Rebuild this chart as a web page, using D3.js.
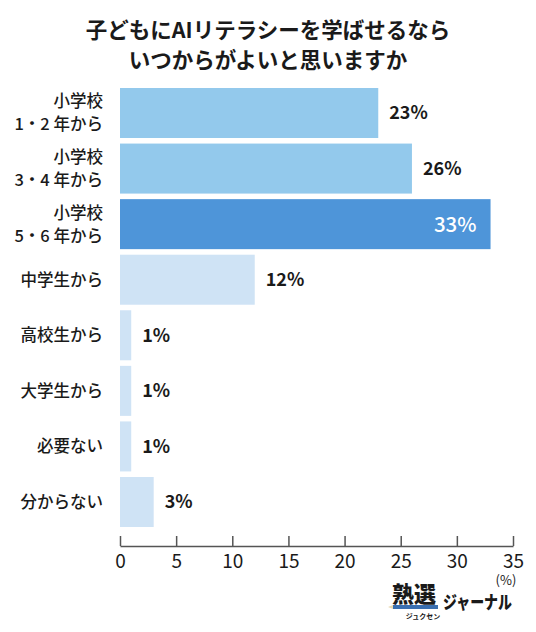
<!DOCTYPE html>
<html><head><meta charset="utf-8">
<script src="https://cdn.jsdelivr.net/npm/d3@7"></script>
<style>
html,body{margin:0;padding:0;background:#fff;}
svg{display:block;font-family:"Noto Sans CJK JP","Noto Sans",sans-serif;}
</style></head>
<body><svg id="c" width="536" height="632"></svg>
<script>
const titleLines = ["子どもにAIリテラシーを学ばせるなら", "いつからがよいと思いますか"];
const categories = ["小学校\n1・2 年から", "小学校\n3・4 年から", "小学校\n5・6 年から", "中学生から", "高校生から", "大学生から", "必要ない", "分からない"];
const values = [23, 26, 33, 12, 1, 1, 1, 3];
const tickValues = [0, 5, 10, 15, 20, 25, 30, 35];
const unitLabel = "(%)";
const highlight = "小学校\n5・6 年から";

const svg = d3.select("#c");
const x = d3.scaleLinear().domain([0, 35]).range([120, 513]);
const y = d3.scaleBand().domain(categories).range([88, 527]).paddingInner(0.1).paddingOuter(0);
const color = c => c === highlight ? "#4e95d9" : (c.startsWith("小学校") ? "#93c9ec" : "#cfe3f5");

// title
svg.append("g").selectAll("text").data(titleLines).join("text")
  .attr("x", 268).attr("y", (d, i) => 38 + i * 30)
  .attr("text-anchor", "middle").attr("font-size", 21.5).attr("font-weight", 700)
  .attr("fill", "#1a1a1a").text(d => d);

const data = categories.map((c, i) => ({c, v: values[i]}));

// bars
svg.append("g").selectAll("rect").data(data).join("rect")
  .attr("x", x(0)).attr("y", d => y(d.c))
  .attr("width", d => x(d.v) - x(0)).attr("height", y.bandwidth())
  .attr("fill", d => color(d.c));

// category labels
const lab = svg.append("g").selectAll("text").data(data).join("text")
  .attr("text-anchor", "end").attr("font-size", 16.5).attr("font-weight", 500)
  .attr("fill", "#1a1a1a");
lab.each(function(d) {
  const lines = d.c.split("\n");
  const cy = y(d.c) + y.bandwidth() / 2;
  const lh = 23;
  d3.select(this).selectAll("tspan").data(lines).join("tspan")
    .attr("x", 103)
    .attr("y", (l, i) => cy + (i - (lines.length - 1) / 2) * lh)
    .attr("dy", "0.36em")
    .text(l => l);
});

// value labels
svg.append("g").selectAll("text").data(data).join("text")
  .attr("x", d => d.c === highlight ? x(d.v) - 14 : x(d.v) + 11)
  .attr("y", d => y(d.c) + y.bandwidth() / 2)
  .attr("dy", "0.36em")
  .attr("text-anchor", d => d.c === highlight ? "end" : "start")
  .attr("font-size", d => d.c === highlight ? 20.5 : 18)
  .attr("font-weight", d => d.c === highlight ? 500 : 700)
  .attr("fill", d => d.c === highlight ? "#ffffff" : "#1a1a1a")
  .text(d => d.v + "%");

// axis
const axis = d3.axisBottom(x).tickValues(tickValues).tickSizeInner(-10).tickSizeOuter(0).tickPadding(8);
const ag = svg.append("g").attr("transform", "translate(0,546)").call(axis);
ag.select(".domain").attr("stroke", "#555").attr("stroke-width", 1.5);
ag.selectAll(".tick line").attr("stroke", "#555").attr("stroke-width", 1.5);
ag.selectAll(".tick text").attr("font-size", 19).attr("font-weight", 400)
  .attr("font-family", "'Noto Sans CJK JP','Noto Sans',sans-serif").attr("fill", "#1a1a1a");

svg.append("text").attr("x", 506).attr("y", 585).attr("text-anchor", "middle")
  .attr("font-size", 13).attr("fill", "#1a1a1a").text(unitLabel);

// logo
const logo = svg.append("g");
logo.append("text").attr("x", 392).attr("y", 602).attr("font-size", 22).attr("font-weight", 900)
  .attr("fill", "#1a1a1a").text("熟選");
logo.append("polygon").attr("points", "388,607 393,605 393,609").attr("fill", "#e8d8b0");
logo.append("rect").attr("x", 393).attr("y", 605).attr("width", 45).attr("height", 4).attr("fill", "#3a6fb0");
logo.append("text").attr("x", 423).attr("y", 619).attr("text-anchor", "middle").attr("font-size", 7)
  .attr("font-weight", 700).attr("fill", "#1a1a1a").text("ジュクセン");
logo.append("text").attr("x", 443).attr("y", 609).attr("font-size", 18).attr("font-weight", 900)
  .attr("textLength", 69).attr("lengthAdjust", "spacingAndGlyphs")
  .attr("fill", "#1a1a1a").text("ジャーナル");
</script></body></html>
